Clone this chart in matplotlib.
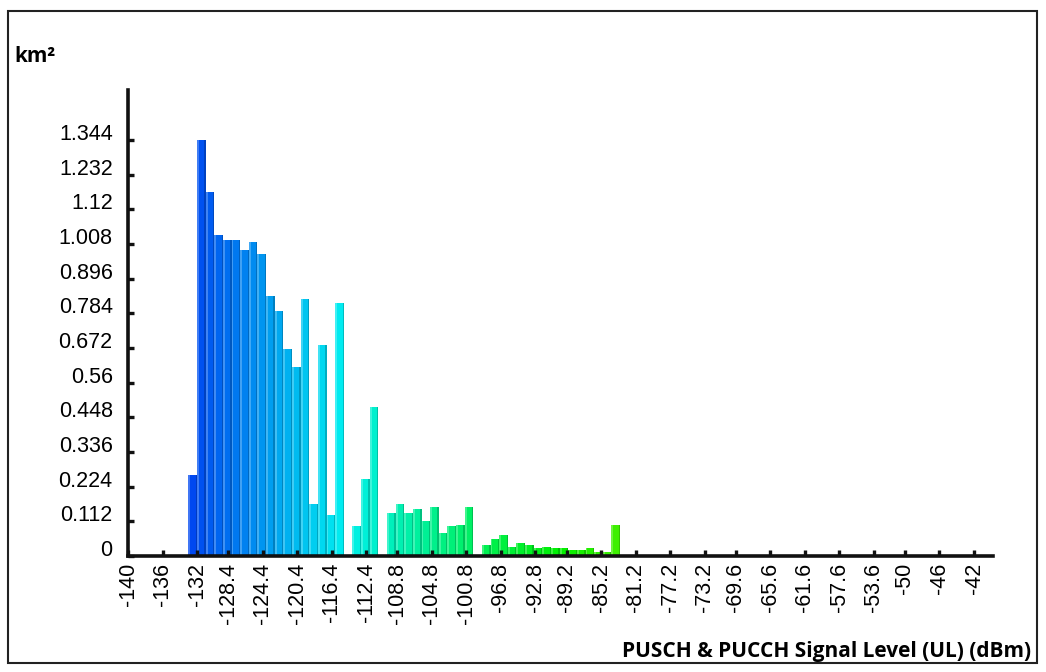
import colorsys
import numpy as np
import matplotlib
matplotlib.use("Agg")
import matplotlib.pyplot as plt
from matplotlib.patches import Rectangle

# signal level bins (left edge, dBm), 1 dB wide
bin_left = list(range(-133, -83))
area_km2 = [0.262, 1.344, 1.176, 1.039, 1.020, 1.020, 0.988, 1.014, 0.975, 0.839,
            0.793, 0.670, 0.612, 0.832, 0.167, 0.683, 0.133, 0.819, 0.0, 0.097,
            0.249, 0.482, 0.0, 0.139, 0.167, 0.139, 0.152, 0.113, 0.159, 0.074,
            0.096, 0.100, 0.159, 0.0, 0.036, 0.055, 0.068, 0.029, 0.042, 0.036,
            0.025, 0.029, 0.025, 0.025, 0.018, 0.018, 0.025, 0.012, 0.012, 0.100]

xtick_vals = [-140, -136, -132, -128.4, -124.4, -120.4, -116.4, -112.4, -108.8,
              -104.8, -100.8, -96.8, -92.8, -89.2, -85.2, -81.2, -77.2, -73.2,
              -69.6, -65.6, -61.6, -57.6, -53.6, -50, -46, -42]
xtick_labels = ["-140", "-136", "-132", "-128.4", "-124.4", "-120.4", "-116.4",
                "-112.4", "-108.8", "-104.8", "-100.8", "-96.8", "-92.8", "-89.2",
                "-85.2", "-81.2", "-77.2", "-73.2", "-69.6", "-65.6", "-61.6",
                "-57.6", "-53.6", "-50", "-46", "-42"]
ytick_vals = [0, 0.112, 0.224, 0.336, 0.448, 0.56, 0.672, 0.784, 0.896, 1.008,
              1.12, 1.232, 1.344]
ytick_labels = ["0", "0.112", "0.224", "0.336", "0.448", "0.56", "0.672", "0.784",
                "0.896", "1.008", "1.12", "1.232", "1.344"]

W, H = 1046, 672
fig = plt.figure(figsize=(W/100, H/100), dpi=100)
ax = fig.add_axes([128/W, (H-556)/H, (993-128)/W, (556-90)/H])

# hue runs blue -> green along the signal level
def level_color(x, v=0.94):
    hue = 240*(1 - (x + 140)/100.0)/360.0
    return colorsys.hsv_to_rgb(hue, 1.0, v)

for xl, h in zip(bin_left, area_km2):
    if h <= 0:
        continue
    base = level_color(xl + 0.5)
    light = tuple(min(1, ch + 0.25*(1 - ch)) for ch in base)
    dark = tuple(ch*0.8 for ch in base)
    ax.bar(xl, h, width=1.0, align="edge", color=base, linewidth=0)
    ax.bar(xl, h, width=0.22, align="edge", color=light, linewidth=0)
    ax.bar(xl + 0.85, h, width=0.15, align="edge", color=dark, linewidth=0)

ax.set_xlim(-140, -39.8)
ax.set_ylim(0, 1.506)

for s in ["top", "right"]:
    ax.spines[s].set_visible(False)
for s in ["left", "bottom"]:
    ax.spines[s].set_linewidth(2.6)
    ax.spines[s].set_color("#111111")

ax.set_xticks(xtick_vals)
ax.set_xticklabels(xtick_labels, rotation=90, fontsize=15.5, family="Liberation Sans")
ax.set_yticks(ytick_vals)
ax.set_yticklabels(ytick_labels, fontsize=15.5, family="Liberation Sans")
ax.tick_params(axis="both", direction="in", length=4, width=2.4, color="#111111")
ax.tick_params(axis="y", pad=11)
ax.tick_params(axis="x", pad=5)
for lab in ax.get_yticklabels():
    lab.set_verticalalignment("baseline")

fig.text(14/W, 1 - 56/H, "km²", fontsize=15, fontweight="bold",
         family="Open Sans", va="center", ha="left")
fig.text(1031/W, 1 - 652/H, "PUSCH & PUCCH Signal Level (UL) (dBm)", fontsize=15,
         fontweight="bold", family="Open Sans", va="center", ha="right")

fig.patches.append(Rectangle((8/W, 1 - 663/H), (1037-8)/W, (663-11)/H,
                             transform=fig.transFigure, fill=False,
                             edgecolor="#222222", linewidth=1.5))

fig.savefig("out.png", dpi=100, facecolor="white")
